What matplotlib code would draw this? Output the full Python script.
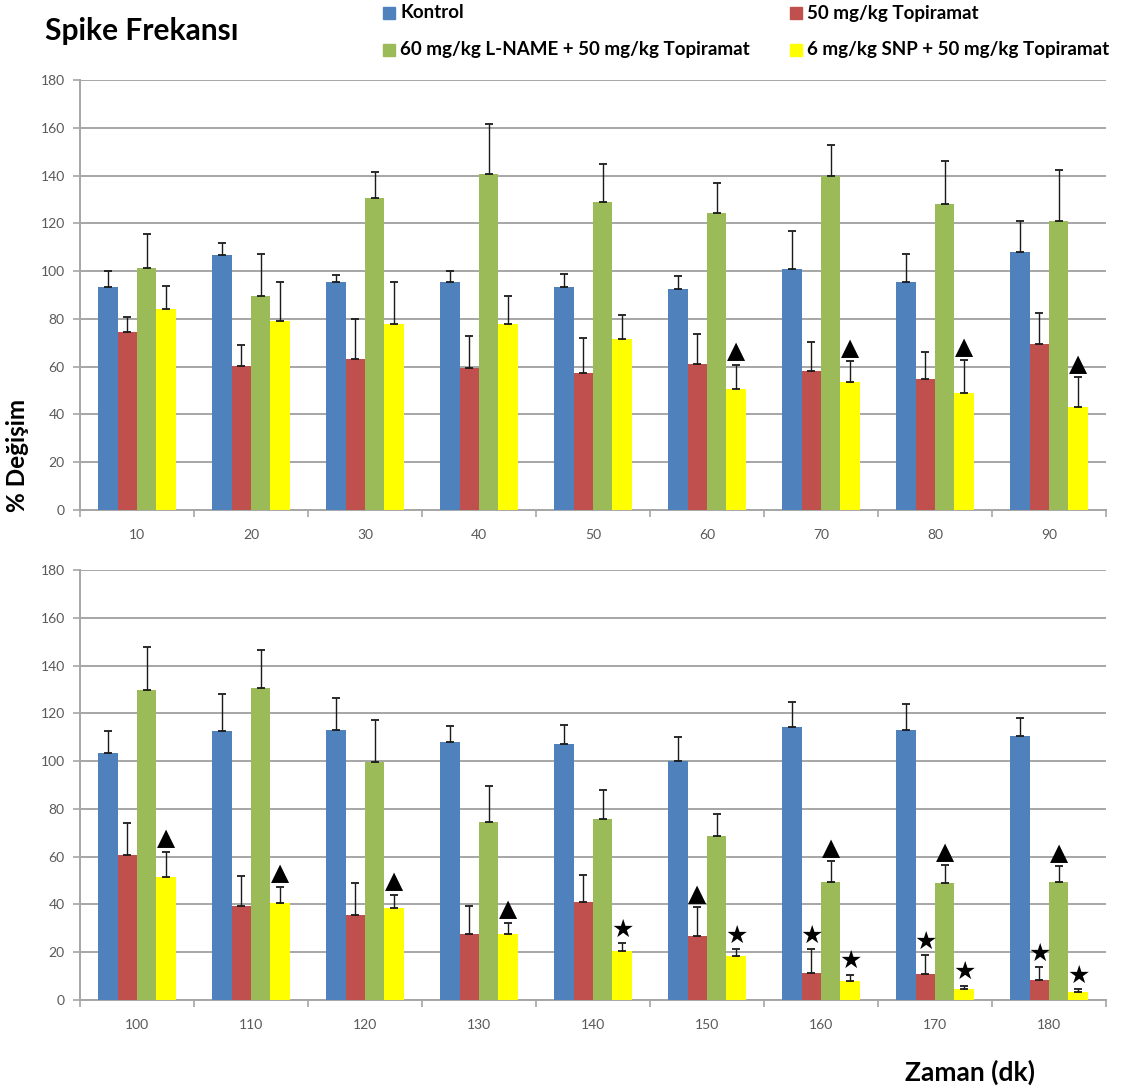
import numpy as np
import matplotlib.pyplot as plt
from matplotlib.patches import Rectangle

# zaman noktalari (dk), iki panele bolunmus
times_top = [10, 20, 30, 40, 50, 60, 70, 80, 90]
times_bottom = [100, 110, 120, 130, 140, 150, 160, 170, 180]

series_labels = ["Kontrol", "50 mg/kg Topiramat",
                 "60 mg/kg L-NAME + 50 mg/kg Topiramat",
                 "6 mg/kg SNP + 50 mg/kg Topiramat"]

# ortalama % degisim ve standart hata (10..180 dk)
kontrol = [93.5, 106.7, 95.6, 95.6, 93.5, 92.6, 100.9, 95.6, 107.9,
           103.5, 112.6, 113.2, 108.0, 107.2, 99.9, 114.1, 113.0, 110.5]
kontrol_err = [6.7, 5.2, 2.6, 4.3, 5.1, 5.5, 16.0, 11.7, 13.1,
               9.0, 15.4, 13.3, 6.9, 7.9, 10.1, 10.5, 10.8, 7.7]
topiramat = [74.4, 60.3, 63.3, 59.3, 57.5, 61.0, 58.3, 54.7, 69.3,
             60.7, 39.5, 35.4, 27.8, 41.2, 26.6, 11.3, 10.7, 8.2]
topiramat_err = [6.5, 8.6, 16.7, 13.5, 14.6, 12.5, 12.2, 11.6, 13.0,
                 13.2, 12.4, 13.7, 11.6, 11.0, 12.3, 10.1, 8.2, 5.6]
lname = [101.2, 89.6, 130.7, 140.6, 129.1, 124.5, 140.0, 128.1, 120.8,
         129.6, 130.7, 99.7, 74.6, 75.8, 68.6, 49.6, 49.0, 49.6]
lname_err = [14.3, 17.4, 10.9, 21.0, 15.6, 12.5, 12.6, 17.9, 21.5,
             18.0, 15.9, 17.4, 15.1, 12.0, 9.4, 8.6, 7.5, 6.3]
snp = [84.0, 79.1, 77.7, 78.0, 71.4, 50.8, 53.4, 48.8, 43.3,
       51.6, 40.5, 38.6, 27.8, 20.7, 18.5, 7.8, 4.6, 3.2]
snp_err = [9.9, 16.2, 17.6, 11.7, 10.1, 10.0, 8.8, 13.8, 12.4,
           10.5, 7.0, 5.4, 4.5, 3.0, 2.9, 2.8, 1.4, 1.4]

values = [kontrol, topiramat, lname, snp]
errors = [kontrol_err, topiramat_err, lname_err, snp_err]
colors = ["#4F81BD", "#C0504D", "#9BBB59", "#FFFF00"]

# anlamlilik isaretleri: (seri indeksi, zaman)
triangle_marks = [(3, 60), (3, 70), (3, 80), (3, 90), (3, 100), (3, 110),
                  (3, 120), (3, 130), (1, 150), (2, 160), (2, 170), (2, 180)]
star_marks = [(3, 140), (3, 150), (3, 160), (3, 170), (3, 180),
              (1, 160), (1, 170), (1, 180)]

plt.rcParams['font.family'] = ['Lato', 'DejaVu Sans']

W, H = 1132, 1091
fig = plt.figure(figsize=(W / 100, H / 100), dpi=100)

grid_col = "#a6a6a6"
tick_col = "#595959"
bw = 0.17
offsets = (np.arange(4) - 1.5) * bw


def px_ax(x0, y_top, x1, y_bot):
    return fig.add_axes([x0 / W, 1 - y_bot / H, (x1 - x0) / W, (y_bot - y_top) / H])


def draw_panel(ax, times, start):
    idx = np.arange(len(times))
    sl = slice(start, start + len(times))
    for k in range(4):
        v = np.array(values[k][sl])
        e = np.array(errors[k][sl])
        ax.bar(idx + offsets[k], v, bw, color=colors[k], zorder=3)
        ax.errorbar(idx + offsets[k], v, yerr=[np.zeros_like(e), e], fmt='none',
                    ecolor='#1a1a1a', elinewidth=1, capsize=3, capthick=1.3, zorder=4)
    for marks, sym, size in ((triangle_marks, "\u25B2", 17), (star_marks, "\u2605", 18)):
        for k, t in marks:
            if t in times:
                i = times.index(t)
                top = values[k][i + start] + errors[k][i + start]
                ax.annotate(sym, (i + offsets[k], top), xytext=(0, 1),
                            textcoords='offset points', ha='center', va='bottom',
                            fontsize=size, family='DejaVu Sans', color='black', zorder=5)
    ax.set_xlim(-0.5, len(times) - 0.5)
    ax.set_ylim(0, 180)
    ax.set_yticks(np.arange(0, 181, 20))
    ax.yaxis.grid(True, color=grid_col, linewidth=1.4, zorder=0)
    ax.set_axisbelow(True)
    ax.set_xticks(idx)
    ax.set_xticklabels([str(t) for t in times])
    ax.set_xticks(np.arange(-0.5, len(times), 1), minor=True)
    ax.tick_params(axis='x', which='major', length=0, pad=14, labelsize=10, labelcolor=tick_col)
    ax.tick_params(axis='x', which='minor', length=5, color=grid_col, width=1.2)
    ax.tick_params(axis='y', length=5, color=grid_col, width=1.2, labelsize=10,
                   labelcolor=tick_col, pad=6)
    for s in ('top', 'right'):
        ax.spines[s].set_visible(False)
    for s in ('left', 'bottom'):
        ax.spines[s].set_color(grid_col)
        ax.spines[s].set_linewidth(1.4)


ax1 = px_ax(80, 80, 1106, 510)
draw_panel(ax1, times_top, 0)
ax2 = px_ax(80, 570, 1106, 1000)
draw_panel(ax2, times_bottom, len(times_top))

fig.text(45 / W, 1 - 31 / H, "Spike Frekansı", fontsize=21.5, fontweight='bold',
         ha='left', va='center')
fig.text(18 / W, 1 - 455 / H, "% Değişim", fontsize=17.5, fontweight='bold',
         rotation=90, ha='center', va='center')
fig.text(905 / W, 1 - 1072 / H, "Zaman (dk)", fontsize=19, fontweight='bold',
         ha='left', va='center')

# lejant: iki sutun, kare isaretler
leg_pos = [(383, 13), (790, 13), (383, 50), (790, 50)]
for (x, y), lab, c in zip(leg_pos, series_labels, colors):
    fig.add_artist(Rectangle((x / W, 1 - (y + 6) / H), 12 / W, 12 / H,
                             transform=fig.transFigure, color=c))
    fig.text((x + 17) / W, 1 - y / H, lab, fontsize=13.5, fontweight='bold',
             ha='left', va='center')

fig.savefig("out.png", dpi=100)
